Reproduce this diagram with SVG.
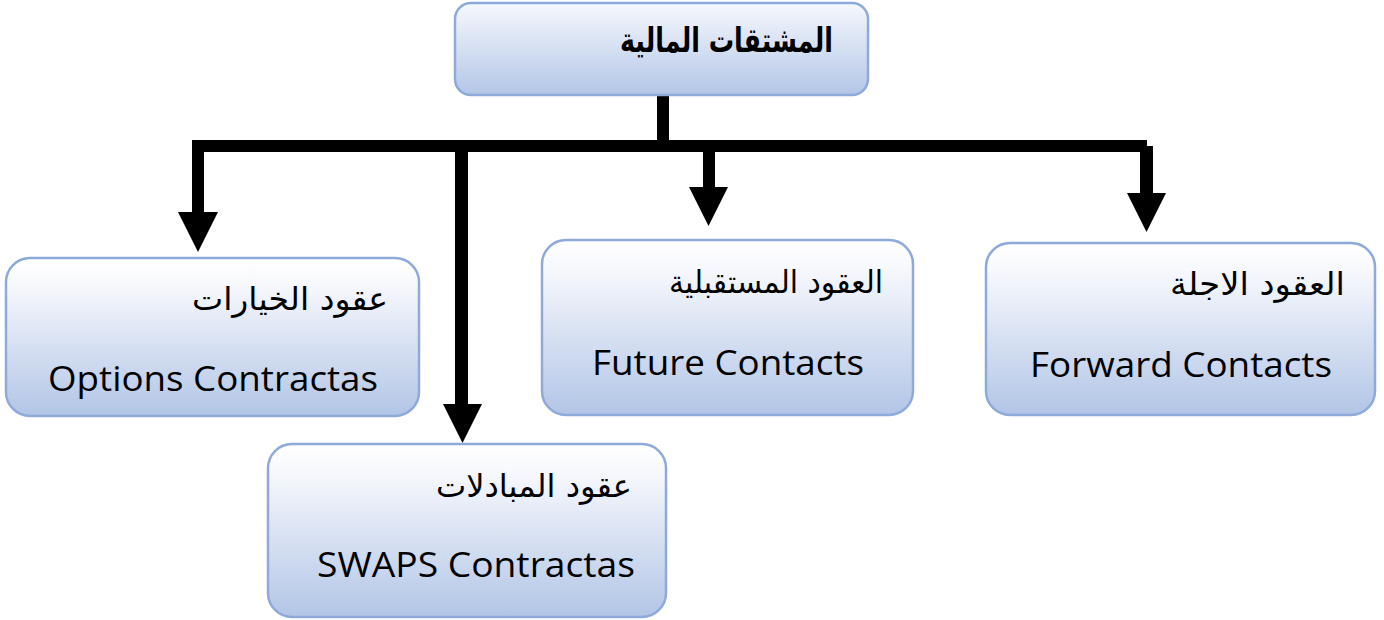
<svg xmlns="http://www.w3.org/2000/svg" width="1384" height="620" viewBox="0 0 1384 620">
<defs>
<linearGradient id="g" x1="0" y1="0" x2="0" y2="1">
<stop offset="0" stop-color="#ffffff"/>
<stop offset="0.15" stop-color="#f8f9fd"/>
<stop offset="1" stop-color="#b2c5e6"/>
</linearGradient>
<linearGradient id="gt" x1="0" y1="0" x2="0" y2="1">
<stop offset="0" stop-color="#f6f8fd"/>
<stop offset="1" stop-color="#b3c6e7"/>
</linearGradient>
<style>
.box{fill:url(#g);stroke:#8eaadb;stroke-width:2.5}
.ar{font-family:'DejaVu Sans',sans-serif;font-size:32px;fill:#000}
.en{font-family:'Open Sans','Liberation Sans',sans-serif;font-size:34px;fill:#000}
.title{font-family:'DejaVu Sans',sans-serif;font-size:34px;font-weight:bold;fill:#000}
.c{fill:#000}
</style>
</defs>
<rect width="1384" height="620" fill="#fff"/>
<g id="connectors" class="c">
<rect x="657" y="94" width="12" height="50"/>
<rect x="192" y="140" width="955" height="12"/>
<rect x="192" y="140" width="12" height="74"/>
<polygon points="178,212 218,212 198,252"/>
<rect x="455" y="150" width="13" height="256"/>
<polygon points="443,404 482,404 462.5,443"/>
<rect x="703" y="150" width="12" height="39"/>
<polygon points="689,187 728,187 708.5,226"/>
<rect x="1140" y="146" width="13" height="49"/>
<polygon points="1127,193 1166,193 1146.5,232"/>
</g>
<g id="root">
<rect x="455" y="3" width="413" height="92" rx="16" fill="url(#gt)" stroke="#8eaadb" stroke-width="2.5"/>
<text class="title" x="833" y="52" text-anchor="end" textLength="213" lengthAdjust="spacingAndGlyphs">المشتقات المالية</text>
</g>
<g id="options">
<rect class="box" x="6" y="258" width="413" height="158" rx="24"/>
<text class="ar" x="388" y="310" text-anchor="end" textLength="196" lengthAdjust="spacingAndGlyphs">عقود الخيارات</text>
<text class="en" x="48" y="391" textLength="330" lengthAdjust="spacingAndGlyphs">Options Contractas</text>
</g>
<g id="swaps">
<rect class="box" x="268" y="444" width="398" height="173" rx="24"/>
<text class="ar" x="632" y="497" text-anchor="end" textLength="196" lengthAdjust="spacingAndGlyphs">عقود المبادلات</text>
<text class="en" x="317" y="577" textLength="318" lengthAdjust="spacingAndGlyphs">SWAPS Contractas</text>
</g>
<g id="future">
<rect class="box" x="542" y="240" width="371" height="175" rx="24"/>
<text class="ar" x="883" y="293" text-anchor="end" textLength="214" lengthAdjust="spacingAndGlyphs">العقود المستقبلية</text>
<text class="en" x="592" y="375" textLength="272" lengthAdjust="spacingAndGlyphs">Future Contacts</text>
</g>
<g id="forward">
<rect class="box" x="986" y="243" width="389" height="172" rx="24"/>
<text class="ar" x="1345" y="295" text-anchor="end" textLength="175" lengthAdjust="spacingAndGlyphs">العقود الاجلة</text>
<text class="en" x="1030" y="377" textLength="302" lengthAdjust="spacingAndGlyphs">Forward Contacts</text>
</g>
</svg>
